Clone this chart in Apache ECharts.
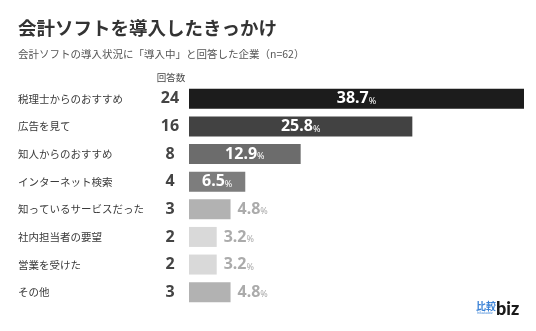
<!DOCTYPE html>
<html>
<head>
<meta charset="utf-8">
<script src="https://cdn.jsdelivr.net/npm/echarts@6/dist/echarts.min.js"></script>
<style>
  html, body { margin: 0; padding: 0; background: #fff; }
  #chart { width: 536px; height: 331px; }
</style>
</head>
<body>
<div id="chart"></div>
<script>
// Reasons for adopting accounting software (n=62)
const categories = [
  '税理士からのおすすめ',
  '広告を見て',
  '知人からのおすすめ',
  'インターネット検索',
  '知っているサービスだった',
  '社内担当者の要望',
  '営業を受けた',
  'その他'
];
const counts = [24, 16, 8, 4, 3, 2, 2, 3];
const percents = [38.7, 25.8, 12.9, 6.5, 4.8, 3.2, 3.2, 4.8];
const barColors = ['#1c1c1c', '#424242', '#6c6c6c', '#7d7d7d', '#b2b2b2', '#d9d9d9', '#d9d9d9', '#b2b2b2'];

const FONT = '"Noto Sans CJK JP", "Noto Sans", sans-serif';
const NUM_FONT = '"Noto Sans", "Noto Sans CJK JP", sans-serif';

const chart = echarts.init(document.getElementById('chart'), null, { renderer: 'canvas' });

function pctRich(color) {
  return {
    n: { color: color, fontSize: 16, fontWeight: 'bold', fontFamily: NUM_FONT },
    p: { color: color, fontSize: 9, fontFamily: NUM_FONT, padding: [5, 0, 0, 0] }
  };
}

const seriesData = percents.map((v, i) => {
  const inside = v >= 6;
  return {
    value: v,
    itemStyle: { color: barColors[i] },
    label: inside
      ? { position: 'inside', rich: pctRich('#fff') }
      : { position: 'right', distance: 7, rich: pctRich('#ababab') }
  };
});

chart.setOption({
  animation: false,
  backgroundColor: '#fff',
  grid: { left: 189, right: 12, top: 85, bottom: 25 },
  xAxis: {
    type: 'value', min: 0, max: 'dataMax',
    show: false
  },
  yAxis: [
    {
      type: 'category', data: categories, inverse: true,
      axisLine: { show: false }, axisTick: { show: false }, splitLine: { show: false },
      axisLabel: { align: 'left', margin: 171, color: '#3a3a3a', fontSize: 10.5, fontFamily: FONT }
    },
    {
      type: 'category', data: counts.map(String), inverse: true, position: 'left',
      axisLine: { show: false }, axisTick: { show: false }, splitLine: { show: false },
      axisLabel: { align: 'center', margin: 19, color: '#444', fontSize: 16, fontWeight: 'bold', fontFamily: NUM_FONT }
    }
  ],
  series: [{
    type: 'bar',
    yAxisIndex: 0,
    data: seriesData,
    barWidth: 20,
    label: {
      show: true,
      formatter: p => '{n|' + p.value.toFixed(1) + '}{p|%}'
    }
  }],
  graphic: [
    { type: 'text', x: 18, y: 28, style: { text: '会計ソフトを導入したきっかけ', fill: '#333', fontSize: 18.5, fontWeight: 'bold', fontFamily: FONT, verticalAlign: 'middle' } },
    { type: 'text', x: 18, y: 54, style: { text: '会計ソフトの導入状況に「導入中」と回答した企業（n=62）', fill: '#555', fontSize: 10.5, fontFamily: FONT, verticalAlign: 'middle' } },
    { type: 'text', x: 171, y: 77, style: { text: '回答数', fill: '#444', fontSize: 9.5, fontFamily: FONT, align: 'center', verticalAlign: 'middle' } },
    { type: 'text', x: 476, y: 306, style: { text: '比較', fill: '#3b82d6', fontSize: 10, fontWeight: 'bold', fontFamily: FONT, verticalAlign: 'middle' } },
    { type: 'text', x: 477, y: 313, style: { text: 'hikakubiz', fill: '#3b82d6', fontSize: 3.5, fontFamily: NUM_FONT, verticalAlign: 'middle' } },
    { type: 'text', x: 496, y: 309, style: { text: 'biz', fill: '#1a1a1a', fontSize: 18, fontWeight: 900, fontFamily: 'Lato, "Noto Sans", sans-serif', verticalAlign: 'middle' } }
  ]
});
</script>
</body>
</html>
